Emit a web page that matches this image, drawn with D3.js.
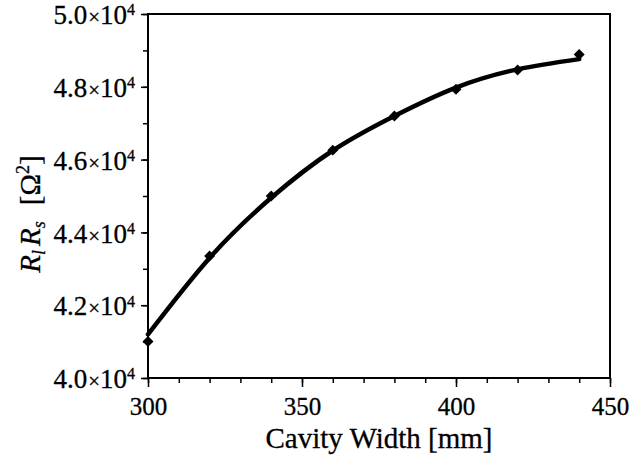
<!DOCTYPE html>
<html>
<head>
<meta charset="utf-8">
<script src="https://cdn.jsdelivr.net/npm/d3@7"></script>
<style>
  body { margin: 0; background: #ffffff; }
  text { font-family: "Liberation Serif", "DejaVu Serif", serif; fill: #000; }
</style>
</head>
<body>
<div id="chart"></div>
<script>
// measured points (cavity width in mm, R_l*R_s in units of 10^4 ohm^2)
const widths = [300, 320, 340, 360, 380, 400, 420, 440];
const products = [4.10, 4.335, 4.50, 4.626, 4.72, 4.793, 4.846, 4.889];

// fitted curve
const fitWidths = [300, 320, 340, 360, 380, 400, 420, 440];
const fitValues = [4.12, 4.33, 4.495, 4.625, 4.72, 4.798, 4.848, 4.876];

const xTicks = [300, 350, 400, 450];
const yTicks = [4.0, 4.2, 4.4, 4.6, 4.8, 5.0];

function drawChart() {
  const width = 631;
  const height = 455;
  const margin = { top: 14, right: 21, bottom: 77, left: 148 };

  const svg = d3.select("#chart")
    .append("svg")
    .attr("width", width)
    .attr("height", height)
    .style("background", "#ffffff");

  // scales
  const x = d3.scaleLinear()
    .domain([300, 450])
    .range([margin.left, width - margin.right]);

  const y = d3.scaleLinear()
    .domain([4.0, 5.0])
    .range([height - margin.bottom, margin.top]);

  // frame
  svg.append("rect")
    .attr("x", x(300))
    .attr("y", y(5.0))
    .attr("width", x(450) - x(300))
    .attr("height", y(4.0) - y(5.0))
    .attr("fill", "none")
    .attr("stroke", "#000")
    .attr("stroke-width", 2);

  // minor ticks
  svg.append("g")
    .attr("transform", `translate(0, ${y(4.0)})`)
    .call(d3.axisBottom(x).tickValues(d3.range(300, 451, 10)).tickSize(5).tickFormat(""))
    .call(g => g.select(".domain").remove())
    .selectAll("line").attr("stroke-width", 1.5);

  svg.append("g")
    .attr("transform", `translate(${x(300)}, 0)`)
    .call(d3.axisLeft(y).tickValues(d3.range(4.0, 5.01, 0.1)).tickSize(5).tickFormat(""))
    .call(g => g.select(".domain").remove())
    .selectAll("line").attr("stroke-width", 1.5);

  // major ticks x
  const xAxis = svg.append("g")
    .attr("transform", `translate(0, ${y(4.0)})`)
    .call(d3.axisBottom(x).tickValues(xTicks).tickSize(9).tickPadding(28).tickFormat(d3.format("d")));
  xAxis.select(".domain").remove();
  xAxis.selectAll("line").attr("stroke-width", 1.5);
  xAxis.selectAll("text")
    .attr("dy", 0)
    .style("font-family", "Liberation Serif")
    .style("font-size", "25px")
    .style("stroke", "#000")
    .style("stroke-width", 0.3);

  // major ticks y
  const yAxis = svg.append("g")
    .attr("transform", `translate(${x(300)}, 0)`)
    .call(d3.axisLeft(y).tickValues(yTicks).tickSize(7).tickPadding(6).tickFormat(""));
  yAxis.select(".domain").remove();
  yAxis.selectAll("line").attr("stroke-width", 1.5);
  yAxis.selectAll(".tick text").each(function(d) {
    const t = d3.select(this)
      .attr("dy", "0.36em")
      .style("font-family", "Liberation Serif")
      .style("font-size", "27px")
      .style("stroke", "#000")
      .style("stroke-width", 0.3);
    t.append("tspan").text(d3.format(".1f")(d));
    t.append("tspan").style("font-size", "21px").attr("dx", 1).text("×");
    t.append("tspan").style("font-size", "27px").text("10");
    t.append("tspan").style("font-size", "16px").attr("dy", "-0.55em").text("4");
  });

  // fitted curve
  const line = d3.line()
    .x((d, i) => x(fitWidths[i]))
    .y(d => y(d))
    .curve(d3.curveNatural);

  svg.append("path")
    .datum(fitValues)
    .attr("d", line)
    .attr("fill", "none")
    .attr("stroke", "#000")
    .attr("stroke-width", 4.5)
    .attr("stroke-linecap", "round");

  // data markers (diamonds)
  svg.selectAll(".pt")
    .data(products)
    .enter()
    .append("path")
    .attr("class", "pt")
    .attr("d", d3.symbol().type(d3.symbolSquare).size(60))
    .attr("transform", (d, i) => `translate(${x(widths[i])}, ${y(d)}) rotate(45)`)
    .attr("fill", "#000");

  // x axis label
  svg.append("text")
    .attr("x", (x(300) + x(450)) / 2)
    .attr("y", 448)
    .attr("text-anchor", "middle")
    .style("font-size", "29px")
    .style("stroke", "#000")
    .style("stroke-width", 0.3)
    .text("Cavity Width [mm]");

  // y axis label
  const yl = svg.append("text")
    .attr("transform", "translate(40, 214) rotate(-90)")
    .attr("text-anchor", "middle")
    .style("font-size", "29px")
    .style("stroke", "#000")
    .style("stroke-width", 0.3);
  yl.append("tspan").style("font-style", "italic").text("R");
  yl.append("tspan").style("font-style", "italic").style("font-size", "18px").attr("dy", 5).text("l");
  yl.append("tspan").style("font-style", "italic").attr("dy", -5).attr("dx", 4).text("R");
  yl.append("tspan").style("font-style", "italic").style("font-size", "18px").attr("dy", 5).text("s");
  yl.append("tspan").attr("dy", -5).attr("dx", 16).text("[Ω");
  yl.append("tspan").style("font-size", "18px").attr("dy", -11).text("2");
  yl.append("tspan").attr("dy", 11).text("]");
}

drawChart();
</script>
</body>
</html>
